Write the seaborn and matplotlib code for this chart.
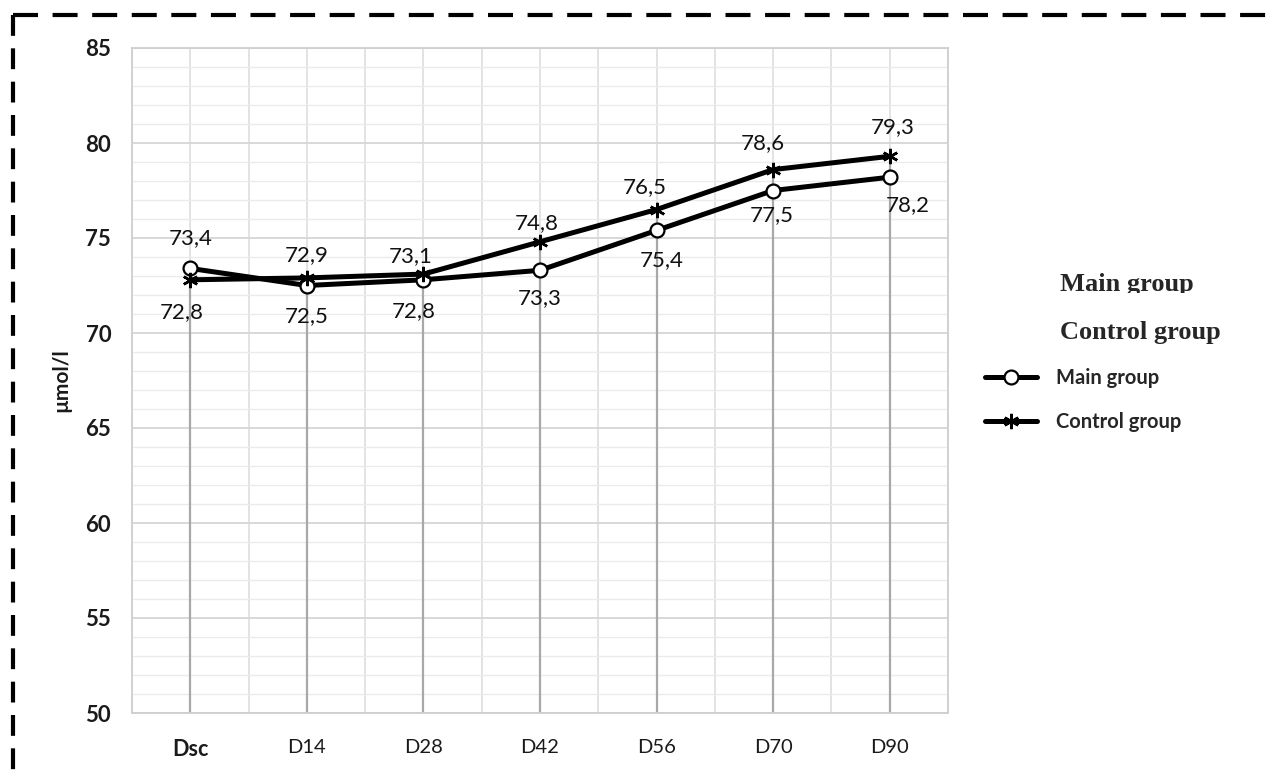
import numpy as np
import pandas as pd
import matplotlib
matplotlib.use("Agg")
import matplotlib.pyplot as plt
import seaborn as sns
from matplotlib.lines import Line2D
from matplotlib.transforms import Bbox, TransformedBbox

# datos
days = ["Dsc", "D14", "D28", "D42", "D56", "D70", "D90"]
main_group = [73.4, 72.5, 72.8, 73.3, 75.4, 77.5, 78.2]
control_group = [72.8, 72.9, 73.1, 74.8, 76.5, 78.6, 79.3]
y_ticks = [50, 55, 60, 65, 70, 75, 80, 85]

# desplazamiento de etiquetas (pixeles)
main_off = [(0, 30), (0, -31), (-10, -31), (0, -28), (5, -30), (-1, -25), (18, -28)]
ctrl_off = [(-9, -32), (0, 23), (-13, 18), (-3, 19), (-12, 22), (-10, 27), (3, 29)]

sns.set_style("white")
plt.rcParams['font.family'] = ['Lato', 'DejaVu Sans']

df_main = pd.DataFrame({"day": days, "value": main_group})
df_ctrl = pd.DataFrame({"day": days, "value": control_group})

fig = plt.figure(figsize=(12.7, 7.78), dpi=100)
ax = fig.add_axes([132 / 1270, 1 - 713 / 778, (948 - 132) / 1270, (713 - 48) / 778])

sns.lineplot(data=df_main, x="day", y="value", color="black", marker="o",
             linewidth=3.6, markersize=10, markerfacecolor="white",
             markeredgecolor="black", markeredgewidth=1.6, ax=ax, zorder=5)
sns.lineplot(data=df_ctrl, x="day", y="value", color="black", marker=(6, 2, 0),
             linewidth=3.6, markersize=11, markeredgecolor="black",
             markeredgewidth=1.8, ax=ax, zorder=5)

ax.set_ylim(50, 85)
ax.set_xlim(-0.5, len(days) - 0.5)
ax.set_yticks(y_ticks)
ax.set_yticks(np.arange(50, 86, 1), minor=True)
ax.set_xticks(range(len(days)))
ax.set_xticks(np.arange(-0.5, len(days), 1), minor=True)
ax.grid(which="major", axis="y", color="#d6d6d6", lw=1.3)
ax.grid(which="minor", axis="y", color="#ebebeb", lw=1.0)
ax.grid(which="both", axis="x", color="#dedede", lw=1.2)
ax.set_axisbelow(True)
ax.tick_params(which="both", length=0)
ax.tick_params(axis="y", pad=15)
ax.tick_params(axis="x", pad=19)
for s in ax.spines.values():
    s.set_color("#cfcfcf")
    s.set_linewidth(1.3)

ax.set_yticklabels([str(t) for t in y_ticks], fontsize=16, fontweight="bold", color="#1a1a1a")
ax.set_xticklabels(days, fontsize=14.5, color="#1a1a1a")
ax.get_xticklabels()[0].set_fontweight("bold")
ax.get_xticklabels()[0].set_fontsize(15.5)
ax.set_xlabel("")
ax.set_ylabel("µmol/l", fontsize=15, fontweight="bold", color="#1a1a1a", labelpad=10)

# lineas de caida
tops = np.maximum(main_group, control_group)
ax.vlines(range(len(days)), 50, tops, color="#a8a8a8", lw=1.6, zorder=2)

# etiquetas de datos
for i in range(len(days)):
    ax.annotate(f"{main_group[i]:.1f}".replace(".", ","), (i, main_group[i]),
                xytext=(main_off[i][0] * 0.72, main_off[i][1] * 0.72), textcoords="offset points",
                ha="center", va="center", fontsize=16, color="#111111")
    ax.annotate(f"{control_group[i]:.1f}".replace(".", ","), (i, control_group[i]),
                xytext=(ctrl_off[i][0] * 0.72, ctrl_off[i][1] * 0.72), textcoords="offset points",
                ha="center", va="center", fontsize=16, color="#111111")

# titulos en serif
t1 = fig.text(1060 / 1270, 1 - 284 / 778, "Main group", fontsize=19, fontweight="bold",
              family="Liberation Serif", va="center", ha="left")
t1.set_clip_box(TransformedBbox(Bbox([[0, 1 - 293 / 778], [1, 1]]), fig.transFigure))
t1.set_clip_on(True)
fig.text(1060 / 1270, 1 - 332 / 778, "Control group", fontsize=19, fontweight="bold",
         family="Liberation Serif", va="center", ha="left")

# leyenda
handles = [
    Line2D([], [], color="black", lw=3.6, marker="o", markersize=10,
           markerfacecolor="white", markeredgewidth=1.6),
    Line2D([], [], color="black", lw=3.6, marker=(6, 2, 0), markersize=11, markeredgewidth=1.8),
]
fig.legend(handles, ["Main group", "Control group"], loc="center left",
           bbox_to_anchor=(967 / 1270, 1 - 400 / 778), frameon=False,
           prop={"size": 14.5, "weight": "bold"}, handlelength=2.6, labelspacing=1.15,
           handletextpad=0.9)

# borde discontinuo
fig.add_artist(Line2D([13 / 1270, 1.0], [1 - 15 / 778, 1 - 15 / 778], color="black",
                      lw=3, linestyle=(0, (6, 3.5)), transform=fig.transFigure))
fig.add_artist(Line2D([13 / 1270, 13 / 1270], [1 - 15 / 778, 0.0], color="black",
                      lw=3, linestyle=(0, (5, 3)), transform=fig.transFigure))

fig.savefig("out.png", dpi=100)
